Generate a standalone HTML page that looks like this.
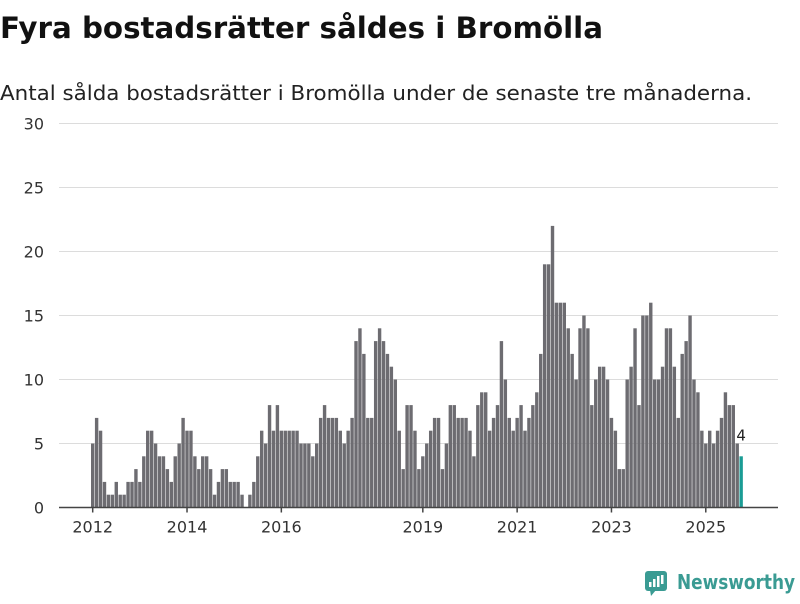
<!DOCTYPE html>
<html><head><meta charset="utf-8">
<style>
body{margin:0;background:#fff;width:800px;height:600px;overflow:hidden;font-family:"DejaVu Sans","Liberation Sans",sans-serif;}
</style></head>
<body>
<svg width="800" height="600" xmlns="http://www.w3.org/2000/svg">
<text x="0" y="38" font-size="29" font-weight="bold" fill="#111" textLength="603" lengthAdjust="spacingAndGlyphs">Fyra bostadsrätter såldes i Bromölla</text>
<text x="0" y="100" font-size="20" fill="#222" textLength="752" lengthAdjust="spacingAndGlyphs">Antal sålda bostadsrätter i Bromölla under de senaste tre månaderna.</text>
<g id="grid"></g>
<g id="bars"></g>
<g id="xaxis"></g>
<g>
<rect x="645" y="571" width="22" height="20" rx="3" fill="#3a9b93"/>
<polygon points="650,590 656,590 651,596" fill="#3a9b93"/>
<rect x="649" y="582" width="2.5" height="5" fill="#fff"/><rect x="653" y="579" width="2.5" height="8" fill="#fff"/><rect x="657" y="576" width="2.5" height="11" fill="#fff"/><rect x="661" y="575" width="2.5" height="9" fill="#fff"/>
<text x="677" y="589" font-size="20" font-weight="bold" fill="#3a9b93" textLength="118" lengthAdjust="spacingAndGlyphs">Newsworthy</text>
</g>
</svg>
<script>
const values=[5,7,6,2,1,1,2,1,1,2,2,3,
2,4,6,6,5,4,4,3,2,4,5,7,
6,6,4,3,4,4,3,1,2,3,3,2,
2,2,1,0,1,2,4,6,5,8,6,8,
6,6,6,6,6,5,5,5,4,5,7,8,
7,7,7,6,5,6,7,13,14,12,7,7,
13,14,13,12,11,10,6,3,8,8,6,3,
4,5,6,7,7,3,5,8,8,7,7,7,
6,4,8,9,9,6,7,8,13,10,7,6,
7,8,6,7,8,9,12,19,19,22,16,16,
16,14,12,10,14,15,14,8,10,11,11,10,
7,6,3,3,10,11,14,8,15,15,16,10,
10,11,14,14,11,7,12,13,15,10,9,6,
5,6,5,6,7,9,8,8,5,4];
const yTicks=[0,5,10,15,20,25,30];
const xTickLabels=["2012","2014","2016","2019","2021","2023","2025"];
const xTickIdx=[0,24,48,84,108,132,156];
const NS="http://www.w3.org/2000/svg";
const X0=91,STEP=3.93,BW=3.4,Y0=507.5,YS=(507.5-123.5)/30;
const xs=i=>X0+i*STEP;
const ys=v=>Y0-v*YS;
function mk(t,a){const e=document.createElementNS(NS,t);for(const k in a)e.setAttribute(k,a[k]);return e;}
const grid=document.getElementById('grid');
yTicks.forEach(v=>{
 if(v>0){const l=mk('line',{x1:59,x2:778,y1:ys(v),y2:ys(v),stroke:'#dcdcdc','stroke-width':1});
 
 grid.appendChild(l);}
 const t=mk('text',{x:44,y:ys(v)+6,'text-anchor':'end','font-size':16,fill:'#333'});t.textContent=v;
 
 grid.appendChild(t);
});
const bars=document.getElementById('bars');
values.forEach((v,i)=>{
 const last=i===values.length-1;
 const r=mk('rect',{x:xs(i),y:ys(v),width:BW,height:v*YS,fill:last?'#1a9c95':'#6d6c71'});
 
 bars.appendChild(r);
 if(last){const t=mk('text',{x:xs(i)+BW/2,y:ys(v)-16,'text-anchor':'middle','font-size':15,fill:'#222',stroke:'#fff','stroke-width':3,'paint-order':'stroke'});t.textContent=v;
 
 bars.appendChild(t);}
});
const xa=document.getElementById('xaxis');
const ax=mk('line',{x1:59,x2:778,y1:Y0,y2:Y0,stroke:'#444','stroke-width':1.5});

xa.appendChild(ax);
xTickIdx.forEach((ix,k)=>{
 const cx=xs(ix)+BW/2;
 const tk=mk('line',{x1:cx,x2:cx,y1:Y0,y2:Y0+5,stroke:'#444','stroke-width':1.5});
 
 xa.appendChild(tk);
 const t=mk('text',{x:cx,y:Y0+25,'text-anchor':'middle','font-size':16,fill:'#333'});t.textContent=xTickLabels[k];
 
 xa.appendChild(t);
});
</script>
</body></html>
